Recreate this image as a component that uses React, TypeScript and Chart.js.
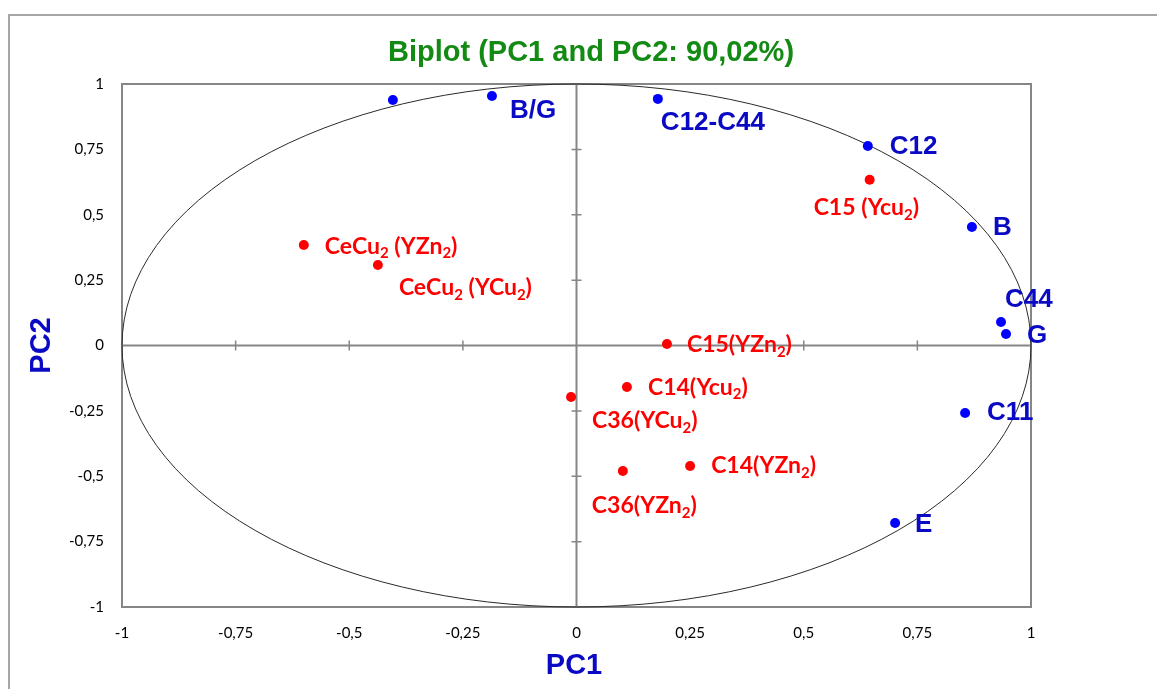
import React, { useEffect, useRef } from 'react';
import { Chart, registerables } from 'chart.js';

Chart.register(...registerables);

// Variable loadings (blue)
const loadingNames = ['', 'B/G', 'C12-C44', 'C12', 'B', 'C44', 'G', 'C11', 'E'];
const loadingPC1 = [-0.404, -0.186, 0.179, 0.641, 0.870, 0.934, 0.945, 0.855, 0.701];
const loadingPC2 = [0.939, 0.954, 0.943, 0.763, 0.453, 0.090, 0.044, -0.258, -0.679];

// Observations (red); "_x" marks a subscript character
const sampleNames = [
  'CeCu_2 (YZn_2)',
  'CeCu_2 (YCu_2)',
  'C15 (Ycu_2)',
  'C15(YZn_2)',
  'C14(Ycu_2)',
  'C36(YCu_2)',
  'C36(YZn_2)',
  'C14(YZn_2)',
];
const samplePC1 = [-0.600, -0.437, 0.645, 0.199, 0.111, -0.012, 0.102, 0.250];
const samplePC2 = [0.384, 0.308, 0.634, 0.006, -0.159, -0.197, -0.480, -0.461];

const axisTicks = [-1, -0.75, -0.5, -0.25, 0, 0.25, 0.5, 0.75, 1];

// Label placement relative to each marker, in pixels [dx, dy]
const loadingLabelOffsets = [[0, 0], [18, 15], [3, 24], [22, 1], [21, 1], [4, -22], [21, 2], [22, 0], [20, 2]];
const sampleLabelOffsets = [[21, 1], [21, 23], [-56, 28], [20, 1], [21, 0], [21, 24], [-31, 35], [21, 0]];

const TITLE = 'Biplot (PC1 and PC2: 90,02%)';
const X_TITLE = 'PC1';
const Y_TITLE = 'PC2';

const BLUE_DOT = '#0000ff';
const BLUE_TEXT = '#0a0ac4';
const RED = '#ff0000';
const GREEN = '#138a13';
const AXIS_GREY = '#868686';

const fmt = (v: number) => String(v).replace('.', ',');

function drawRich(ctx: CanvasRenderingContext2D, text: string, x: number, y: number, size: number, family: string, color: string) {
  ctx.save();
  ctx.fillStyle = color;
  ctx.textBaseline = 'middle';
  ctx.textAlign = 'left';
  let cx = x;
  let i = 0;
  while (i < text.length) {
    if (text[i] === '_' && i + 1 < text.length) {
      const sub = Math.round(size * 0.66);
      ctx.font = `bold ${sub}px ${family}`;
      ctx.fillText(text[i + 1], cx, y + size * 0.32);
      cx += ctx.measureText(text[i + 1]).width;
      i += 2;
    } else {
      let j = i;
      while (j < text.length && text[j] !== '_') j++;
      const part = text.slice(i, j);
      ctx.font = `bold ${size}px ${family}`;
      ctx.fillText(part, cx, y);
      cx += ctx.measureText(part).width;
      i = j;
    }
  }
  ctx.restore();
}

const biplotDecor = {
  id: 'biplotDecor',
  beforeDraw(chart: any) {
    const ctx = chart.ctx as CanvasRenderingContext2D;
    ctx.save();
    ctx.fillStyle = '#ffffff';
    ctx.fillRect(0, 0, chart.width, chart.height);
    // outer frame
    ctx.strokeStyle = '#a6a6a6';
    ctx.lineWidth = 2;
    ctx.strokeRect(9, 15, chart.width + 20, chart.height + 20);
    ctx.restore();
  },
  beforeDatasetsDraw(chart: any) {
    const ctx = chart.ctx as CanvasRenderingContext2D;
    const xs = chart.scales.x;
    const ys = chart.scales.y;
    const { left, right, top, bottom } = chart.chartArea;
    const x0 = xs.getPixelForValue(0);
    const y0 = ys.getPixelForValue(0);
    ctx.save();
    // plot border
    ctx.strokeStyle = AXIS_GREY;
    ctx.lineWidth = 2;
    ctx.strokeRect(left, top, right - left, bottom - top);
    // axes through the origin
    ctx.beginPath();
    ctx.moveTo(left, y0);
    ctx.lineTo(right, y0);
    ctx.moveTo(x0, top);
    ctx.lineTo(x0, bottom);
    ctx.stroke();
    // tick crosses on the central axes
    ctx.lineWidth = 1.5;
    ctx.beginPath();
    axisTicks.forEach((v) => {
      if (v === 0 || Math.abs(v) === 1) return;
      const px = xs.getPixelForValue(v);
      ctx.moveTo(px, y0 - 5);
      ctx.lineTo(px, y0 + 5);
      const py = ys.getPixelForValue(v);
      ctx.moveTo(x0 - 5, py);
      ctx.lineTo(x0 + 5, py);
    });
    ctx.stroke();
    // correlation circle (unit radius in data space)
    const rx = xs.getPixelForValue(1) - x0;
    const ry = y0 - ys.getPixelForValue(1);
    ctx.strokeStyle = '#2b2b2b';
    ctx.lineWidth = 1;
    ctx.beginPath();
    ctx.ellipse(x0, y0, rx, ry, 0, 0, Math.PI * 2);
    ctx.stroke();
    ctx.restore();
  },
  afterDatasetsDraw(chart: any) {
    const ctx = chart.ctx as CanvasRenderingContext2D;
    const xs = chart.scales.x;
    const ys = chart.scales.y;
    loadingNames.forEach((name, i) => {
      if (!name) return;
      const px = xs.getPixelForValue(loadingPC1[i]) + loadingLabelOffsets[i][0];
      const py = ys.getPixelForValue(loadingPC2[i]) + loadingLabelOffsets[i][1];
      drawRich(ctx, name, px, py, 26, '"Liberation Sans", Arial, sans-serif', BLUE_TEXT);
    });
    sampleNames.forEach((name, i) => {
      const px = xs.getPixelForValue(samplePC1[i]) + sampleLabelOffsets[i][0];
      const py = ys.getPixelForValue(samplePC2[i]) + sampleLabelOffsets[i][1];
      drawRich(ctx, name, px, py, 23, 'Lato, "Open Sans", sans-serif', RED);
    });
  },
  afterDraw(chart: any) {
    const ctx = chart.ctx as CanvasRenderingContext2D;
    const { top, bottom } = chart.chartArea;
    ctx.save();
    ctx.textAlign = 'center';
    ctx.textBaseline = 'middle';
    ctx.fillStyle = GREEN;
    ctx.font = 'bold 29px "Liberation Sans", Arial, sans-serif';
    ctx.fillText(TITLE, 591, 53);
    ctx.fillStyle = BLUE_TEXT;
    ctx.font = 'bold 29px "Liberation Sans", Arial, sans-serif';
    ctx.fillText(X_TITLE, 574, 666);
    ctx.translate(42, (top + bottom) / 2);
    ctx.rotate(-Math.PI / 2);
    ctx.fillText(Y_TITLE, 0, 0);
    ctx.restore();
  },
};

export default function App() {
  const canvasRef = useRef<HTMLCanvasElement | null>(null);

  useEffect(() => {
    document.body.style.margin = '0';
    const canvas = canvasRef.current;
    if (!canvas) return;
    const tickFont = { family: 'Lato, "Open Sans", sans-serif', size: 15 };
    const chart = new Chart(canvas, {
      type: 'scatter',
      data: {
        datasets: [
          {
            label: 'Variables',
            data: loadingPC1.map((x, i) => ({ x, y: loadingPC2[i] })),
            pointRadius: 5,
            pointBackgroundColor: BLUE_DOT,
            pointBorderWidth: 0,
            borderWidth: 0,
          },
          {
            label: 'Observations',
            data: samplePC1.map((x, i) => ({ x, y: samplePC2[i] })),
            pointRadius: 5,
            pointBackgroundColor: RED,
            pointBorderWidth: 0,
            borderWidth: 0,
          },
        ],
      },
      options: {
        animation: false,
        responsive: false,
        devicePixelRatio: 1,
        layout: { padding: { left: 0, top: 84, right: 126, bottom: 0 } },
        plugins: {
          legend: { display: false },
          tooltip: { enabled: false },
          title: { display: false },
        },
        scales: {
          x: {
            type: 'linear',
            min: -1,
            max: 1,
            grid: { display: false, drawTicks: false },
            border: { display: false },
            afterBuildTicks: (s: any) => {
              s.ticks = axisTicks.map((value) => ({ value }));
            },
            afterFit: (s: any) => {
              s.height = 82;
            },
            ticks: {
              callback: (v: any) => fmt(Number(v)),
              font: tickFont,
              color: '#000000',
              padding: 17,
              maxRotation: 0,
              autoSkip: false,
            },
          },
          y: {
            type: 'linear',
            min: -1,
            max: 1,
            grid: { display: false, drawTicks: false },
            border: { display: false },
            afterBuildTicks: (s: any) => {
              s.ticks = axisTicks.map((value) => ({ value }));
            },
            afterFit: (s: any) => {
              s.width = 122;
            },
            ticks: {
              callback: (v: any) => fmt(Number(v)),
              font: tickFont,
              color: '#000000',
              padding: 18,
              autoSkip: false,
            },
          },
        },
      },
      plugins: [biplotDecor],
    } as any);
    return () => chart.destroy();
  }, []);

  return (
    <canvas
      ref={canvasRef}
      width={1157}
      height={689}
      style={{ display: 'block', width: 1157, height: 689 }}
    />
  );
}
